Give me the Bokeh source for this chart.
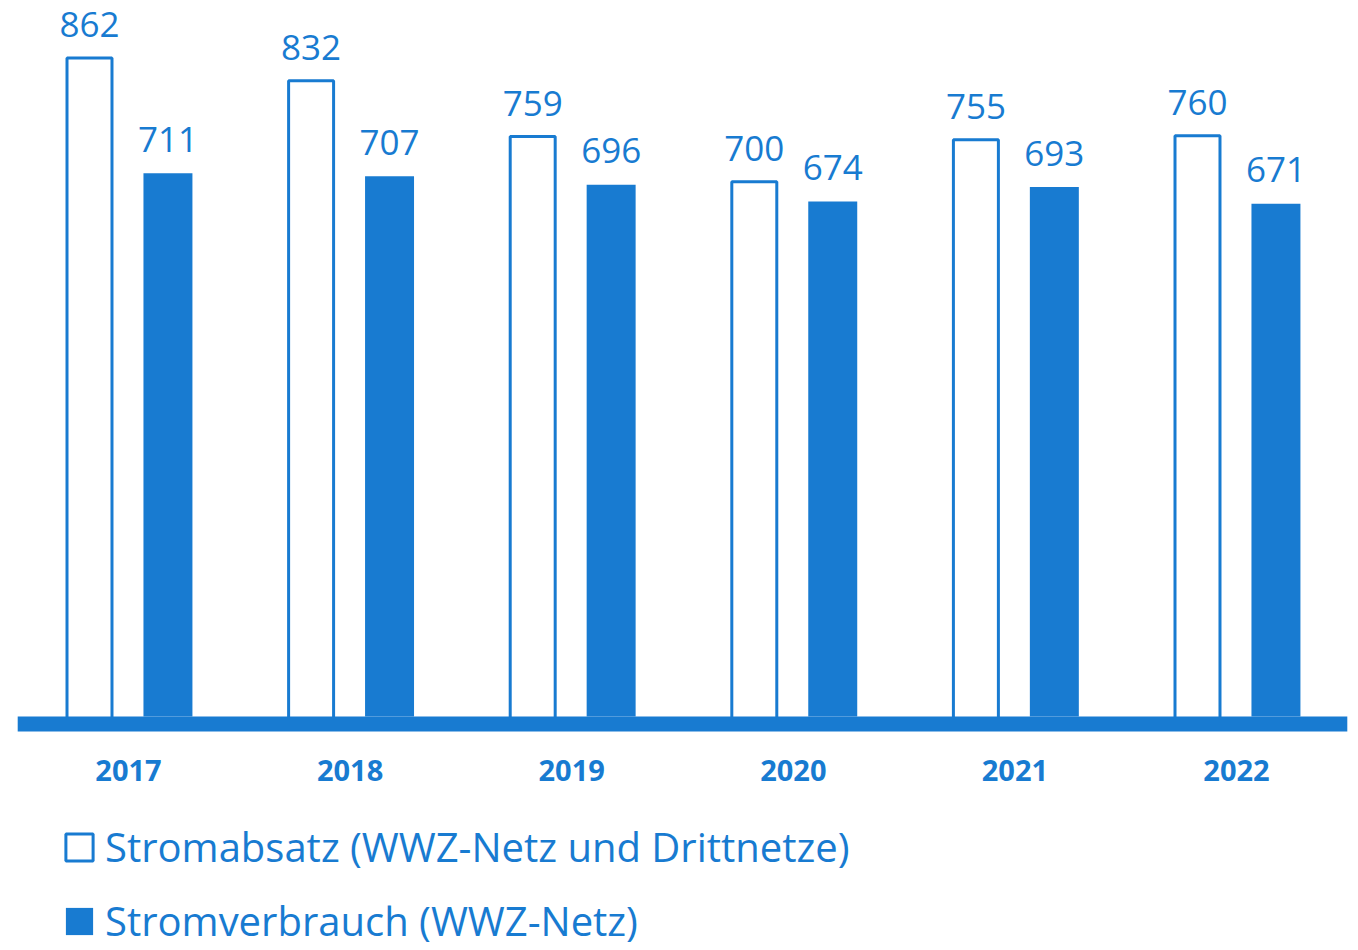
from bokeh.plotting import figure
from bokeh.models import Range1d, Legend, LegendItem, ColumnDataSource
from bokeh.transform import dodge
from bokeh.core.properties import value
from bokeh.embed import file_html
from bokeh.resources import INLINE

# ---- data ----
years = ["2017", "2018", "2019", "2020", "2021", "2022"]
stromabsatz = [862, 832, 759, 700, 755, 760]
stromverbrauch = [711, 707, 696, 674, 693, 671]
series_names = ["Stromabsatz (WWZ-Netz und Drittnetze)", "Stromverbrauch (WWZ-Netz)"]

# ---- style / layout ----
BLUE = "#187bd1"
FONT = "Open Sans"
W, H = 1358, 950
PX_X = 221.6          # pixels per category
X0 = 128              # pixel position of first category centre
PX_Y = 0.764          # pixels per unit
Y0 = 716              # pixel position (from top) of value 0

idx = list(range(len(years)))
src = ColumnDataSource(dict(
    x=idx, year=years,
    a=stromabsatz, v=stromverbrauch,
    a_lab=[str(v) for v in stromabsatz],
    v_lab=[str(v) for v in stromverbrauch],
))

p = figure(width=W, height=H, output_backend="svg", toolbar_location=None,
           x_range=Range1d(-X0 / PX_X, (W - X0) / PX_X),
           y_range=Range1d(-(H - Y0) / PX_Y, Y0 / PX_Y),
           x_axis_location=None, y_axis_location=None,
           min_border=0)
p.grid.visible = False
p.outline_line_color = None
p.background_fill_color = "white"
p.border_fill_color = "white"

OFF_A, OFF_V = -0.176, 0.178

r1 = p.vbar(x=dodge("x", OFF_A, range=p.x_range), top="a", bottom=-10, width=0.203,
            fill_color="white", line_color=BLUE, line_width=3, source=src)
r2 = p.vbar(x=dodge("x", OFF_V, range=p.x_range), top="v", bottom=0, width=0.221,
            fill_color=BLUE, line_color=None, source=src)

# baseline
p.quad(left=-0.5, right=len(years) - 0.5, top=0, bottom=-15 / PX_Y,
       fill_color=BLUE, line_color=None)

# value labels
p.text(x=dodge("x", OFF_A, range=p.x_range), y="a", text="a_lab", source=src,
       text_align="center", text_baseline="alphabetic", y_offset=-33,
       text_font=value(FONT), text_font_size="35px", text_color=BLUE)
p.text(x=dodge("x", OFF_V, range=p.x_range), y="v", text="v_lab", source=src,
       text_align="center", text_baseline="alphabetic", y_offset=-34,
       text_font=value(FONT), text_font_size="35px", text_color=BLUE)

# year labels
p.text(x="x", y=0, text="year", source=src,
       text_align="center", text_baseline="alphabetic", y_offset=54,
       text_font=value(FONT), text_font_size="29px", text_font_style="bold",
       text_color=BLUE)

def make_legend(r, label, loc):
    lg = Legend(items=[LegendItem(label=label, renderers=[r])], location=loc,
                orientation="vertical", padding=0, margin=0, spacing=0,
                border_line_color=None, background_fill_alpha=0,
                glyph_width=34, glyph_height=34, label_standoff=9,
                label_text_font=FONT, label_text_font_size="40px",
                label_text_color=BLUE)
    return lg

p.add_layout(make_legend(r1, series_names[0], (62, 76)))
p.add_layout(make_legend(r2, series_names[1], (62, 2)))

open("out.html", "w").write(file_html(p, INLINE))
